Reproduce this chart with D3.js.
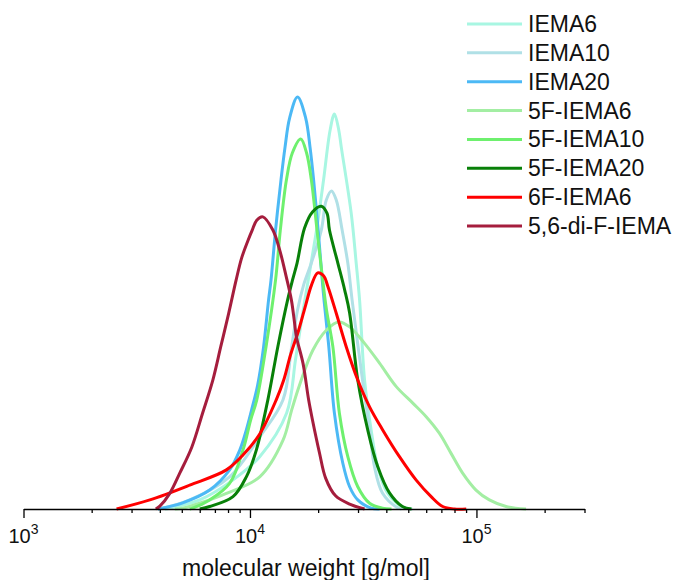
<!DOCTYPE html>
<html>
<head>
<meta charset="utf-8">
<script src="https://cdn.jsdelivr.net/npm/d3@7"></script>
<style>
  body { margin: 0; background: #fff; }
  text { font-family: Arial, "Liberation Sans", sans-serif; fill: #111; }
</style>
</head>
<body>
<div id="chart"></div>
<script>
// GPC traces: [log10(M), normalised signal]
var seriesNames = ["IEMA6", "IEMA10", "IEMA20", "5F-IEMA6", "5F-IEMA10", "5F-IEMA20", "6F-IEMA6", "5,6-di-F-IEMA"];
var seriesColors = ["#a8f6e2", "#b0e0e6", "#4cb9f5", "#a3eea3", "#6ef06e", "#088008", "#ff0000", "#a51d3d"];

var iema6 = [[3.624,0],[3.646,0.002],[3.778,0.022],[3.924,0.070],[4.043,0.127],[4.162,0.233],[4.201,0.362],[4.228,0.459],[4.250,0.532],[4.272,0.604],[4.294,0.677],[4.325,0.799],[4.354,0.920],[4.373,0.959],[4.392,0.920],[4.403,0.879],[4.447,0.718],[4.469,0.597],[4.484,0.507],[4.506,0.313],[4.535,0.192],[4.564,0.102],[4.607,0.039],[4.673,0.005],[4.717,0]];
var iema10 = [[3.593,0],[3.615,0.002],[3.734,0.022],[3.910,0.078],[4.043,0.175],[4.146,0.265],[4.182,0.386],[4.210,0.483],[4.237,0.544],[4.271,0.597],[4.315,0.677],[4.337,0.750],[4.360,0.772],[4.381,0.750],[4.407,0.677],[4.432,0.597],[4.451,0.507],[4.497,0.313],[4.528,0.192],[4.550,0.102],[4.585,0.039],[4.646,0.005],[4.669,0]];
var iema20 = [[3.593,0],[3.703,0.015],[3.822,0.046],[3.910,0.095],[3.955,0.143],[3.984,0.192],[4.007,0.240],[4.034,0.301],[4.060,0.393],[4.082,0.507],[4.093,0.556],[4.113,0.677],[4.137,0.799],[4.155,0.879],[4.175,0.949],[4.210,1.000],[4.246,0.949],[4.265,0.879],[4.281,0.799],[4.301,0.677],[4.319,0.556],[4.327,0.507],[4.348,0.394],[4.373,0.232],[4.410,0.111],[4.440,0.054],[4.476,0.022],[4.535,0.002],[4.572,0]];
var f5iema6 = [[3.668,0],[3.703,0.002],[3.778,0.014],[3.896,0.038],[4.043,0.078],[4.146,0.167],[4.184,0.240],[4.219,0.301],[4.278,0.386],[4.337,0.434],[4.392,0.454],[4.440,0.442],[4.506,0.402],[4.572,0.354],[4.646,0.297],[4.719,0.257],[4.778,0.224],[4.836,0.184],[4.888,0.135],[4.939,0.087],[4.998,0.046],[5.057,0.022],[5.131,0.006],[5.219,0]];
var f5iema10 = [[3.734,0],[3.747,0.002],[3.822,0.022],[3.910,0.062],[3.969,0.143],[4.003,0.216],[4.030,0.265],[4.071,0.394],[4.113,0.556],[4.134,0.677],[4.161,0.799],[4.187,0.864],[4.224,0.898],[4.250,0.864],[4.271,0.799],[4.296,0.677],[4.321,0.556],[4.338,0.483],[4.366,0.394],[4.395,0.232],[4.432,0.127],[4.476,0.054],[4.528,0.014],[4.585,0.002],[4.625,0]];
var f5iema20 = [[3.778,0],[3.822,0.006],[3.925,0.030],[3.984,0.078],[4.028,0.143],[4.079,0.265],[4.123,0.394],[4.166,0.507],[4.188,0.556],[4.208,0.597],[4.241,0.682],[4.276,0.721],[4.315,0.735],[4.340,0.718],[4.351,0.677],[4.388,0.597],[4.418,0.532],[4.440,0.476],[4.476,0.313],[4.520,0.192],[4.564,0.103],[4.616,0.039],[4.673,0.006],[4.713,0]];
var f6iema6 = [[3.411,0],[3.558,0.022],[3.734,0.058],[3.896,0.095],[3.969,0.131],[4.043,0.182],[4.116,0.265],[4.149,0.313],[4.179,0.374],[4.215,0.434],[4.246,0.495],[4.272,0.544],[4.299,0.573],[4.325,0.566],[4.344,0.540],[4.381,0.475],[4.425,0.394],[4.476,0.313],[4.528,0.248],[4.586,0.192],[4.660,0.127],[4.734,0.070],[4.800,0.030],[4.851,0.006],[4.903,0],[4.955,0]];
var diF = [[3.584,0],[3.602,0.007],[3.646,0.038],[3.690,0.087],[3.743,0.150],[3.791,0.233],[3.836,0.313],[3.871,0.394],[3.906,0.475],[3.939,0.556],[3.963,0.609],[3.990,0.650],[4.010,0.677],[4.030,0.701],[4.057,0.709],[4.101,0.677],[4.131,0.629],[4.160,0.564],[4.183,0.507],[4.197,0.451],[4.205,0.418],[4.234,0.354],[4.259,0.265],[4.276,0.216],[4.307,0.136],[4.334,0.075],[4.378,0.032],[4.440,0.012],[4.506,0]];

var allSeries = [iema6, iema10, iema20, f5iema6, f5iema10, f5iema20, f6iema6, diF];

var majorTicks = [1e3, 1e4, 1e5];
var majorExp = ["3", "4", "5"];

var width = 676, height = 580;

var svg = d3.select("#chart").append("svg")
    .attr("width", width)
    .attr("height", height);

var x = d3.scaleLog().domain([1e3, 3e5]).range([23.5, 584.5]);
var y = d3.scaleLinear().domain([0, 1]).range([509, 97]);

// curves
var line = d3.line()
    .x(function(d) { return x(Math.pow(10, d[0])); })
    .y(function(d) { return Math.min(509, y(d[1])); })
    .curve(d3.curveCatmullRom.alpha(0.5));

svg.selectAll("path.trace")
    .data(allSeries)
    .enter()
    .append("path")
    .attr("class", "trace")
    .attr("fill", "none")
    .attr("stroke", function(d, i) { return seriesColors[i]; })
    .attr("stroke-width", 3)
    .attr("stroke-linejoin", "round")
    .attr("d", line);

// axis
var minorTicks = x.ticks().filter(function(v) {
    return majorTicks.indexOf(v) < 0;
});

var minorAxis = svg.append("g")
    .attr("transform", "translate(0,509)")
    .call(d3.axisBottom(x).tickValues(minorTicks).tickSize(4).tickSizeOuter(0).tickFormat(""));

var majorAxis = svg.append("g")
    .attr("transform", "translate(0,509)")
    .call(d3.axisBottom(x).tickValues(majorTicks).tickSize(9).tickSizeOuter(0).tickFormat(""));

majorAxis.select(".domain").remove();
svg.selectAll(".domain").attr("stroke", "#000").attr("stroke-width", 1.5);
svg.selectAll(".tick line").attr("stroke", "#000").attr("stroke-width", 1.3);

var labels = svg.selectAll("text.ticklab")
    .data(majorTicks)
    .enter()
    .append("text")
    .attr("class", "ticklab")
    .attr("x", function(d) { return x(d); })
    .attr("y", 543)
    .attr("text-anchor", "middle")
    .style("font-size", "20px");

labels.append("tspan").text("10");
labels.append("tspan")
    .attr("dy", -9)
    .style("font-size", "14px")
    .text(function(d, i) { return majorExp[i]; });

svg.append("text")
    .attr("x", 306)
    .attr("y", 576)
    .attr("text-anchor", "middle")
    .style("font-size", "23px")
    .text("molecular weight [g/mol]");

// legend
var legend = svg.selectAll(".legend")
    .data(seriesNames)
    .enter()
    .append("g")
    .attr("class", "legend")
    .attr("transform", function(d, i) {
        return "translate(467," + (24 + i * 28.86) + ")";
    });

legend.append("line")
    .attr("x1", 0)
    .attr("x2", 55)
    .attr("stroke", function(d, i) { return seriesColors[i]; })
    .attr("stroke-width", 3);

legend.append("text")
    .attr("x", 61)
    .attr("y", 8)
    .style("font-size", "23px")
    .text(function(d) { return d; });
</script>
</body>
</html>
